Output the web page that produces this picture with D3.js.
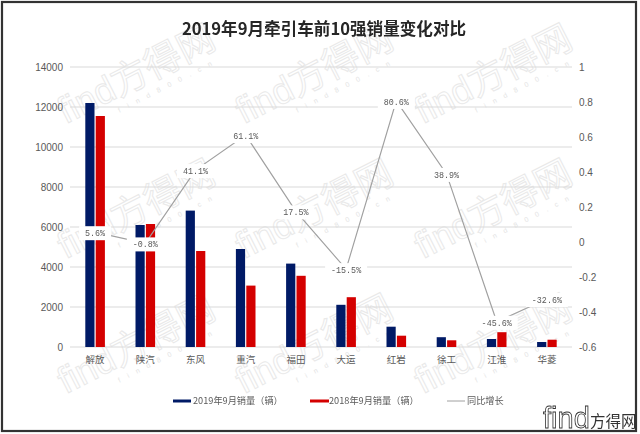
<!DOCTYPE html>
<html><head><meta charset="utf-8">
<script src="https://cdn.jsdelivr.net/npm/d3@7"></script>
<style>html,body{margin:0;padding:0;background:#fff}svg{display:block;filter:blur(0.35px)}</style>
</head><body><svg id="c" width="640" height="434"></svg>
<script>
const categories=["解放","陕汽","东风","重汽","福田","大运","红岩","徐工","江淮","华菱"];
const sales2019=[12200,6100,6820,4900,4170,2110,1015,490,400,250];
const sales2018=[11550,6150,4800,3070,3560,2490,565,335,740,365];
const growth=[0.056,-0.008,0.411,0.611,0.175,-0.155,0.806,0.389,-0.456,-0.326];
const growthLabels=["5.6%","-0.8%","41.1%","61.1%","17.5%","-15.5%","80.6%","38.9%","-45.6%","-32.6%"];
const leftTicks=[0,2000,4000,6000,8000,10000,12000,14000];
const rightTicks=[-0.6,-0.4,-0.2,0,0.2,0.4,0.6,0.8,1];
const seriesNames=["2019年9月销量（辆）","2018年9月销量（辆）","同比增长"];
const titleText="2019年9月牵引车前10强销量变化对比";
const stampCols=[140,318,497];
const stampRows=[82,217,352];

const svg=d3.select("#c");
const NAVY="#001a66",RED="#d40000",GREY="#a0a0a0",TXT="#595959";
const sans="'Liberation Sans','Noto Sans CJK SC',sans-serif";
const cjk="'Noto Sans CJK SC',sans-serif";
const mono="'Liberation Mono','Noto Sans CJK SC',monospace";
const L=70,R=572,T=67,B=347;
const x=d3.scaleBand().domain(categories).range([L,R]);
const yL=d3.scaleLinear().domain([0,14000]).range([B,T]);
const yR=d3.scaleLinear().domain([-0.6,1]).range([B,T]);

svg.append("rect").attr("x",2).attr("y",2).attr("width",634).attr("height",429)
  .attr("fill","#fff").attr("stroke","#333").attr("stroke-width",2.2);

// watermark
const wm=svg.append("g");
stampRows.forEach(ry=>stampCols.forEach(cx=>{
  const g=wm.append("g").attr("transform",`translate(${cx},${ry}) rotate(-27)`);
  g.append("text").attr("text-anchor","middle").attr("y",4).attr("font-family",sans)
    .attr("font-size",37).attr("fill","#fff").attr("stroke","#e9e9e9").attr("stroke-width",1)
    .text("find方得网");
  g.append("text").attr("text-anchor","middle").attr("x",24).attr("y",18).attr("font-family",sans)
    .attr("font-size",7).attr("letter-spacing",8).attr("fill","#e4e4e4").text("find800.cn");
}));

// grid
svg.append("g").selectAll("line").data(leftTicks).join("line")
  .attr("x1",L).attr("x2",R).attr("y1",d=>yL(d)).attr("y2",d=>yL(d))
  .attr("stroke","#d9d9d9").attr("stroke-width",1.1);

// axes
const axL=svg.append("g").attr("transform",`translate(${L-7},0)`)
  .call(d3.axisLeft(yL).tickValues(leftTicks).tickSize(0).tickPadding(0).tickFormat(d3.format("d")));
const axR=svg.append("g").attr("transform",`translate(${R+7},0)`)
  .call(d3.axisRight(yR).tickValues(rightTicks).tickSize(0).tickPadding(0).tickFormat(d=>String(+d.toFixed(1))));
const axB=svg.append("g").attr("transform",`translate(0,${B+13})`)
  .call(d3.axisBottom(x).tickSize(0).tickPadding(0));
[axL,axR,axB].forEach(a=>{a.select(".domain").remove();});
[axL,axR].forEach(a=>a.selectAll("text").attr("font-family",sans).attr("font-size",10).attr("fill",TXT));
axB.selectAll("text").attr("font-family",cjk).attr("font-size",9.5).attr("fill",TXT).attr("y",0).attr("dy","0.3em");

// bars
const bw=9.2;
svg.append("g").selectAll("rect").data(categories).join("rect")
  .attr("x",d=>x(d)+x.bandwidth()/2-bw-0.6).attr("width",bw)
  .attr("y",(d,i)=>yL(sales2019[i])).attr("height",(d,i)=>B-yL(sales2019[i])).attr("fill",NAVY);
svg.append("g").selectAll("rect").data(categories).join("rect")
  .attr("x",d=>x(d)+x.bandwidth()/2+0.6).attr("width",bw)
  .attr("y",(d,i)=>yL(sales2018[i])).attr("height",(d,i)=>B-yL(sales2018[i])).attr("fill",RED);

// growth line
const line=d3.line().x((d,i)=>x(categories[i])+x.bandwidth()/2).y(d=>yR(d));
svg.append("path").attr("d",line(growth)).attr("fill","none").attr("stroke",GREY).attr("stroke-width",1.2);

// labels
const lab=svg.append("g");
growth.forEach((g,i)=>{
  const cx=x(categories[i])+x.bandwidth()/2, cy=yR(g)+1, t=growthLabels[i];
  const w=t.length*5+12;
  lab.append("rect").attr("x",cx-w/2).attr("y",cy-7).attr("width",w).attr("height",14).attr("fill","#fff");
  lab.append("text").attr("x",cx).attr("y",cy).attr("dy","0.35em").attr("text-anchor","middle")
    .attr("font-family",mono).attr("font-size",8.4).attr("fill",TXT).text(t);
});

// title
svg.append("text").attr("x",324).attr("y",35).attr("text-anchor","middle")
  .attr("font-family",cjk).attr("font-weight",700).attr("font-size",16.6).attr("fill","#262626").text(titleText);

// legend
const lg=svg.append("g");
[[173,191,NAVY,3,193,0],[310,329,RED,3,329,1],[447,465,GREY,1,467,2]].forEach(r=>{
  lg.append("line").attr("x1",r[0]).attr("x2",r[1]).attr("y1",401).attr("y2",401).attr("stroke",r[2]).attr("stroke-width",r[3]);
  lg.append("text").attr("x",r[4]).attr("y",401).attr("dy","0.35em").attr("font-family",cjk).attr("font-size",9.2).attr("fill",TXT).text(seriesNames[r[5]]);
});

// corner logo
svg.append("text").attr("x",543).attr("y",428).attr("font-family",sans)
  .attr("font-size",29).attr("fill","#fff").attr("stroke","#333").attr("stroke-width",0.8).text("find");
svg.append("text").attr("x",590).attr("y",427).attr("font-family",cjk)
  .attr("font-size",15.5).attr("fill","#333").text("方得网");
</script></body></html>
